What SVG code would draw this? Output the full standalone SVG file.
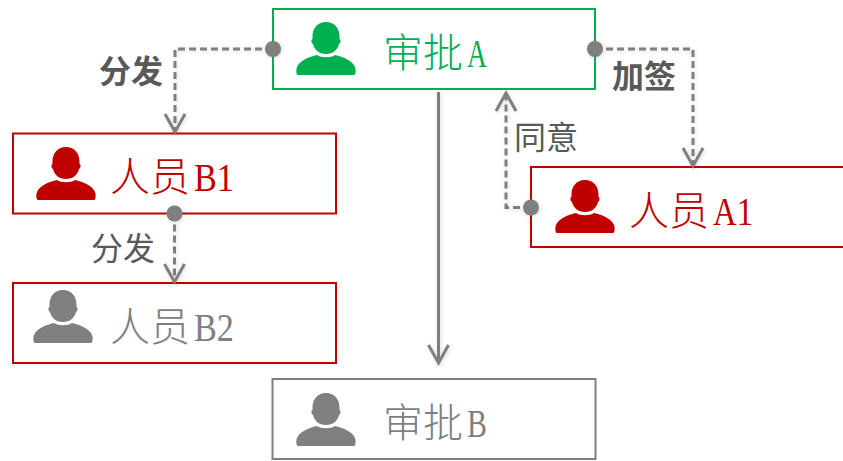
<svg xmlns="http://www.w3.org/2000/svg" width="843" height="461" viewBox="0 0 843 461">
<style>
.box{fill:#fff;stroke-width:2}
.green{stroke:#00b050}.red{stroke:#c00000}.gray{stroke:#7f7f7f}
.t{font-family:"Liberation Serif","Noto Sans CJK SC",serif;font-size:40px;font-weight:300}
.l{font-family:"Noto Sans CJK SC",sans-serif;font-size:32px;fill:#595959}
.b{font-weight:700}
.c{fill:none;stroke:#7f7f7f;stroke-width:3}
.d{stroke-dasharray:7 4}
.dot{fill:#7f7f7f}
</style>
<defs>
<path id="p" d="M0-30C-9-30-13.500-23-13.500-15.500L-13.500-13C-15-12.500-15-9-13-8C-11.500-2-7 2 0 2C7 2 11.500-2 13-8C15-9 15-12.500 13.500-13L13.500-15.500C13.500-23 9-30 0-30ZM-9 3C-17 5-26 8-29 15C-30 17-30 23-28 23L28 23C30 23 30 17 29 15C26 8 17 5 9 3C5 6-5 6-9 3Z"/>
<marker id="a" markerUnits="userSpaceOnUse" markerWidth="24" markerHeight="24" refX="20" refY="12" orient="auto"><path d="M2 2L20 12L2 22" fill="none" stroke="#7f7f7f" stroke-width="3"/></marker>
<filter id="s" x="-20%" y="-20%" width="140%" height="140%"><feDropShadow dx="1" dy="1" stdDeviation="2" flood-opacity="0.15"/></filter>
</defs>
<g id="node-a"><rect class="box green" x="273" y="9" width="322" height="80"/><use href="#p" x="326" y="52" fill="#00b050"/><text class="t" x="383" y="67" fill="#00b050">审批<tspan textLength="20" lengthAdjust="spacingAndGlyphs" dx="4">A</tspan></text></g>
<g id="node-b1"><rect class="box red" x="13" y="133.500" width="323" height="80"/><use href="#p" x="66" y="177" fill="#c00000"/><text class="t" x="110" y="191" fill="#c00000">人员<tspan textLength="40" lengthAdjust="spacingAndGlyphs" dx="4">B1</tspan></text></g>
<g id="node-b2"><rect class="box red" x="13" y="283" width="323" height="80"/><use href="#p" x="63" y="320" fill="#7f7f7f"/><text class="t" x="110" y="341" fill="#7f7f7f">人员<tspan textLength="40" lengthAdjust="spacingAndGlyphs" dx="4">B2</tspan></text></g>
<g id="node-a1"><rect class="box red" x="531" y="167" width="323" height="80"/><use href="#p" x="585" y="210" fill="#c00000"/><text class="t" x="629" y="225" fill="#c00000">人员<tspan textLength="40" lengthAdjust="spacingAndGlyphs" dx="4">A1</tspan></text></g>
<g id="node-b"><rect class="box gray" x="272.500" y="379" width="323" height="80"/><use href="#p" x="326" y="423" fill="#7f7f7f"/><text class="t" x="383" y="437" fill="#7f7f7f">审批<tspan textLength="20" lengthAdjust="spacingAndGlyphs" dx="4">B</tspan></text></g>
<g id="connectors" filter="url(#s)">
<path class="c d" d="M273 49H175V132" marker-end="url(#a)"/>
<path class="c d" d="M595 49H693V166" marker-end="url(#a)"/>
<path class="c d" d="M531 207.500H506V93" marker-end="url(#a)"/>
<path class="c d" d="M174.500 213.500V282" marker-end="url(#a)"/>
<path class="c" d="M438.500 92V363" marker-end="url(#a)"/>
<circle class="dot" cx="273" cy="49" r="8"/>
<circle class="dot" cx="595" cy="49" r="8"/>
<circle class="dot" cx="531" cy="207.500" r="8"/>
<circle class="dot" cx="174.500" cy="213.500" r="8"/>
</g>
<text class="l b" x="99" y="83">分发</text>
<text class="l b" x="612" y="88">加签</text>
<text class="l" x="514" y="149">同意</text>
<text class="l" x="91" y="260">分发</text>
</svg>
